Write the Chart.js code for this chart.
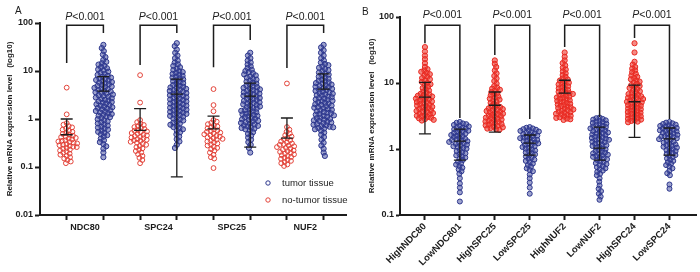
<!DOCTYPE html>
<html><head><meta charset="utf-8">
<script src="https://cdn.jsdelivr.net/npm/chart.js@4.4.1/dist/chart.umd.min.js"></script>
<style>
html,body{margin:0;padding:0;background:#fff;}
#wrap{position:relative;width:700px;height:272px;overflow:hidden;background:#fff;}
canvas{position:absolute;top:0;}
#ca{left:0}
#cb{left:350px}
</style></head><body>
<div id="wrap"><canvas id="ca" width="350" height="272"></canvas><canvas id="cb" width="350" height="272"></canvas></div>
<script>
// ---------------- DATA : panel A ----------------
const genesA = ['NDC80', 'SPC24', 'SPC25', 'NUF2'];
const seriesA = ['tumor tissue', 'no-tumor tissue'];
const yTicksA = [0.01, 0.1, 1, 10, 100];
const pLabel = 'P<0.001';

const aNDC80Normal = [4.5,1.25,0.82,0.76,0.71,0.67,0.63,0.6,0.57,0.54,0.51,0.49,0.47,0.45,0.43,0.42,0.405,0.39,0.375,0.36,0.35,0.34,0.33,0.32,0.31,0.3,0.29,0.285,0.275,0.265,0.26,0.25,0.24,0.23,0.22,0.21,0.2,0.19,0.18,0.17,0.16,0.15,0.14,0.13,0.12];
const aNDC80Tumor = [35,30,26,22,19.5,17,15.5,14.5,13.6,12.8,12,11.4,10.8,10.2,9.7,9.2,8.7,8.3,7.9,7.6,7.3,7.0,6.8,6.5,6.3,6.1,5.9,5.7,5.5,5.3,5.1,4.9,4.75,4.6,4.45,4.3,4.15,4.0,3.85,3.72,3.6,3.48,3.36,3.24,3.12,3.0,2.9,2.8,2.7,2.6,2.5,2.42,2.34,2.26,2.18,2.1,2.03,1.96,1.89,1.82,1.76,1.7,1.64,1.58,1.52,1.47,1.42,1.37,1.32,1.27,1.22,1.17,1.13,1.09,1.05,0.99,0.94,0.89,0.85,0.81,0.77,0.73,0.69,0.66,0.63,0.6,0.57,0.54,0.51,0.48,0.46,0.43,0.39,0.36,0.33,0.3,0.27,0.24,0.2,0.16];
const aSPC24Normal = [8.2,2.2,0.95,0.86,0.8,0.75,0.71,0.68,0.65,0.62,0.59,0.57,0.55,0.53,0.51,0.49,0.47,0.455,0.44,0.425,0.41,0.395,0.38,0.37,0.36,0.35,0.335,0.32,0.305,0.29,0.275,0.26,0.245,0.23,0.215,0.2,0.185,0.17,0.155,0.14,0.12];
const aSPC24Tumor = [38,33,28,24,21,18.5,16.5,15,13.8,12.8,12,11.2,10.5,9.9,9.5,9.1,8.7,8.3,7.95,7.6,7.3,7.0,6.7,6.4,6.1,5.85,5.6,5.35,5.1,4.9,4.7,4.55,4.4,4.25,4.1,3.97,3.84,3.71,3.59,3.47,3.35,3.24,3.13,3.03,2.93,2.83,2.74,2.65,2.56,2.48,2.4,2.32,2.24,2.17,2.1,2.03,1.96,1.9,1.84,1.78,1.72,1.66,1.61,1.56,1.51,1.46,1.41,1.36,1.32,1.28,1.24,1.2,1.16,1.12,1.07,1.02,0.97,0.93,0.88,0.84,0.8,0.76,0.72,0.68,0.64,0.61,0.57,0.53,0.48,0.43,0.38,0.34,0.29,0.25];
const aSPC25Normal = [4.2,1.95,1.45,0.95,0.88,0.83,0.78,0.74,0.7,0.67,0.64,0.61,0.58,0.56,0.54,0.52,0.5,0.48,0.46,0.445,0.43,0.415,0.4,0.385,0.37,0.355,0.34,0.325,0.31,0.295,0.28,0.265,0.25,0.235,0.22,0.2,0.18,0.16,0.15,0.095];
const aSPC25Tumor = [24,21,18.5,16.5,15,13.7,12.5,11.5,10.6,10,9.5,9.0,8.5,8.1,7.7,7.3,6.9,6.6,6.3,6.0,5.7,5.45,5.2,4.95,4.75,4.6,4.45,4.3,4.15,4.0,3.87,3.74,3.61,3.49,3.37,3.26,3.15,3.04,2.94,2.84,2.74,2.65,2.56,2.47,2.39,2.31,2.23,2.16,2.09,2.02,1.95,1.88,1.82,1.76,1.7,1.64,1.58,1.53,1.48,1.43,1.38,1.33,1.29,1.25,1.21,1.17,1.13,1.09,1.05,1.01,0.98,0.95,0.92,0.89,0.86,0.83,0.8,0.77,0.74,0.72,0.7,0.67,0.65,0.63,0.61,0.57,0.53,0.49,0.45,0.41,0.37,0.33,0.29,0.25,0.2];
const aNUF2Normal = [5.5,0.68,0.6,0.54,0.5,0.46,0.43,0.4,0.38,0.36,0.34,0.325,0.31,0.3,0.29,0.28,0.27,0.26,0.25,0.24,0.23,0.222,0.214,0.206,0.198,0.19,0.183,0.176,0.169,0.162,0.155,0.148,0.141,0.134,0.127,0.12,0.113,0.105];
const aNUF2Tumor = [35,31,27,24,21,18.5,16.5,15,14,13.2,12.4,11.7,11,10.4,9.8,9.3,8.8,8.4,8.0,7.6,7.25,6.9,6.6,6.3,6.05,5.8,5.6,5.4,5.22,5.05,4.88,4.72,4.56,4.41,4.26,4.12,3.98,3.85,3.72,3.6,3.48,3.36,3.25,3.14,3.04,2.94,2.84,2.74,2.65,2.56,2.48,2.4,2.32,2.24,2.17,2.1,2.03,1.96,1.9,1.84,1.78,1.72,1.66,1.6,1.55,1.5,1.45,1.4,1.35,1.31,1.27,1.23,1.19,1.15,1.11,1.07,1.04,1.0,0.97,0.94,0.91,0.88,0.85,0.82,0.79,0.76,0.74,0.71,0.69,0.67,0.65,0.63,0.61,0.57,0.52,0.47,0.42,0.37,0.32,0.28,0.24,0.2,0.17];

// mean line, upper and lower whisker (null = not visible)
const aMean  = [0.47, 3.8, 0.58, 3.3, 0.62, 3.0, 0.4, 4.2];
const aUpper = [1.0, 7.6, 1.65, 6.8, 1.15, 5.6, 1.05, 8.7];
const aLower = [null, null, null, 0.062, null, 0.26, null, null];
const aBracketTop = 90;
const aLegLeft  = [14.7, 13.3, 12, 11.5];
const aLegRight = [62, 62, 44, 62];

// ---------------- DATA : panel B ----------------
const groupsB = ['HighNDC80', 'LowNDC801', 'HighSPC25', 'LowSPC25', 'HighNUF2', 'LowNUF2', 'HighSPC24', 'LowSPC24'];
const yTicksB = [0.1, 1, 10, 100];

const bHighNDC80 = [35,30,26,23,20,17.5,16.2,15.5,14.8,14.2,13.6,13,12.4,11.9,11.4,10.9,10.4,10,9.6,9.2,8.8,8.4,8.0,7.7,7.4,7.1,6.85,6.7,6.55,6.4,6.25,6.1,5.95,5.8,5.66,5.52,5.39,5.26,5.14,5.02,4.9,4.78,4.67,4.56,4.45,4.35,4.25,4.15,4.05,3.95,3.86,3.77,3.68,3.59,3.51,3.43,3.35,3.27,3.19,3.12,3.05,2.98,2.91,2.84,2.77,2.7];
const bLowNDC80 = [2.57,2.5,2.44,2.38,2.32,2.26,2.2,2.14,2.09,2.04,1.99,1.94,1.89,1.84,1.79,1.75,1.71,1.67,1.63,1.59,1.55,1.51,1.47,1.43,1.4,1.37,1.34,1.31,1.28,1.25,1.22,1.19,1.16,1.13,1.1,1.07,1.04,1.01,0.97,0.93,0.89,0.86,0.83,0.8,0.77,0.74,0.71,0.68,0.64,0.61,0.58,0.55,0.52,0.49,0.46,0.42,0.36,0.3,0.26,0.22,0.16];
const bHighSPC25 = [22,19.5,17.5,15.5,14,12.8,11.7,10.7,9.8,9.0,8.5,8.2,7.9,7.6,7.3,7.0,6.75,6.5,6.25,6.0,5.8,5.6,5.4,5.2,5.0,4.8,4.6,4.45,4.33,4.23,4.13,4.03,3.94,3.85,3.76,3.67,3.59,3.51,3.43,3.35,3.27,3.2,3.13,3.06,2.99,2.92,2.85,2.79,2.73,2.67,2.61,2.55,2.49,2.43,2.38,2.33,2.28,2.23,2.18,2.13,2.08,2.04,2.0,1.96];
const bLowSPC25 = [2.15,2.1,2.05,2.0,1.96,1.92,1.88,1.84,1.8,1.76,1.72,1.68,1.64,1.6,1.56,1.52,1.49,1.46,1.43,1.4,1.37,1.34,1.31,1.28,1.25,1.22,1.19,1.16,1.13,1.1,1.07,1.04,1.01,0.98,0.95,0.92,0.89,0.86,0.83,0.8,0.77,0.74,0.71,0.69,0.66,0.63,0.6,0.57,0.54,0.51,0.48,0.46,0.41,0.36,0.31,0.26,0.21];
const bHighNUF2 = [29,25,22,20,18.5,17,16,15,14,13.2,12.4,11.7,11.3,10.9,10.5,10.1,9.8,9.5,9.2,8.9,8.6,8.3,8.05,7.8,7.55,7.35,7.17,7.0,6.83,6.66,6.5,6.34,6.19,6.04,5.89,5.75,5.61,5.47,5.34,5.21,5.08,4.96,4.84,4.72,4.6,4.49,4.38,4.27,4.17,4.07,3.97,3.87,3.78,3.69,3.6,3.51,3.42,3.34,3.26,3.18,3.1,3.03,2.96,2.89,2.82,2.76];
const bLowNUF2 = [3.0,2.93,2.86,2.79,2.72,2.66,2.6,2.54,2.48,2.42,2.36,2.3,2.25,2.2,2.15,2.1,2.05,2.0,1.95,1.9,1.86,1.82,1.78,1.74,1.7,1.66,1.62,1.58,1.54,1.5,1.47,1.44,1.41,1.38,1.35,1.32,1.29,1.26,1.23,1.2,1.17,1.14,1.11,1.08,1.05,1.02,0.99,0.96,0.93,0.9,0.88,0.86,0.84,0.82,0.8,0.78,0.76,0.74,0.72,0.7,0.68,0.65,0.63,0.61,0.59,0.57,0.55,0.53,0.51,0.49,0.47,0.45,0.42,0.4,0.36,0.32,0.28,0.25,0.23,0.21,0.19,0.17];
const bHighSPC24 = [40,29,21,19,17.5,16.5,15.5,14.6,13.8,13,12.4,11.9,11.4,10.9,10.5,10.1,9.7,9.3,9.0,8.7,8.4,8.1,7.8,7.5,7.25,7.0,6.8,6.6,6.45,6.3,6.15,6.0,5.86,5.72,5.58,5.45,5.32,5.2,5.08,4.96,4.84,4.72,4.61,4.5,4.39,4.29,4.19,4.09,3.99,3.9,3.81,3.72,3.63,3.54,3.46,3.38,3.3,3.22,3.14,3.07,3.0,2.93,2.86,2.79,2.72,2.66,2.6,2.54];
const bLowSPC24 = [2.57,2.51,2.45,2.39,2.34,2.29,2.24,2.19,2.14,2.09,2.04,2.0,1.96,1.92,1.88,1.84,1.8,1.76,1.72,1.68,1.64,1.6,1.57,1.54,1.51,1.48,1.45,1.41,1.37,1.33,1.29,1.25,1.21,1.17,1.14,1.11,1.08,1.05,1.02,0.99,0.96,0.93,0.9,0.87,0.84,0.81,0.78,0.75,0.72,0.69,0.66,0.63,0.6,0.57,0.54,0.51,0.47,0.43,0.4,0.29,0.25];

const bMean  = [6.1, 1.32, 4.6, 1.23, 7.0, 1.03, 5.2, 1.42];
const bUpper = [10.2, 2.0, 7.3, 1.63, 11, 2.15, 9.3, 2.08];
const bLower = [1.7, 0.68, 1.8, 0.81, null, 0.68, 1.5, 0.81];
const bBracketTop = 75;
const bLegLeft  = [40, 26.5, 35, 48];
const bLegRight = [2.95, 2.85, 3.05, 2.85];

// ---------------- STYLE ----------------
const FONT = "'Liberation Sans', Arial, Helvetica, sans-serif";
Chart.defaults.font.family = FONT;
const INK = '#1c1c1c';
const BLUE = 'rgb(44,54,140)';
const BLUE_FILL = 'rgba(62,72,158,0.5)';
const RED_A = 'rgb(226,66,56)';
const RED_B = 'rgb(232,40,32)';
const RED_B_FILL = 'rgba(236,60,50,0.6)';

function datasets(groups, styles) {
  return groups.map((vals, i) => ({
    data: vals.map(v => ({x: i, y: v})),
    borderColor: styles[i].stroke, backgroundColor: styles[i].fill,
    pointRadius: styles[i].r, pointBorderWidth: 1, pointHoverRadius: styles[i].r, showLine: false
  }));
}

function yAxis(ticksArr, width, titlePad, tickLen) {
  return {
    type: 'logarithmic', min: ticksArr[0], max: ticksArr[ticksArr.length - 1],
    afterBuildTicks: s => { s.ticks = ticksArr.map(v => ({value: v})); },
    afterFit: s => { s.width = width; },
    ticks: {callback: v => String(v), font: {size: 9, weight: 'bold'}, color: INK, padding: 2, autoSkip: false},
    grid: {display: true, drawOnChartArea: false, drawTicks: true, tickLength: tickLen, tickWidth: 2, tickColor: INK},
    border: {display: true, color: INK, width: 2},
    title: {display: true, text: 'Relative mRNA expression level   (log10)', font: {size: 8, weight: 'bold'}, color: INK, padding: {top: titlePad, bottom: 0}}
  };
}

function xAxis(min, max, n, labels, rot) {
  return {
    type: 'linear', min: min, max: max,
    afterBuildTicks: s => { s.ticks = Array.from({length: n}, (_, i) => ({value: i})); },
    afterFit: s => { s.height = 57; },
    ticks: {callback: v => labels ? labels[Math.round(v)] : '', font: {size: 9.5, weight: 'bold'}, color: INK,
            autoSkip: false, maxRotation: rot, minRotation: rot, padding: 1},
    grid: {display: true, drawOnChartArea: false, drawTicks: true, tickLength: 5, tickWidth: 2, tickColor: INK},
    border: {display: true, color: INK, width: 2}
  };
}

function overlay(cfg) {
  return {
    id: 'overlay',
    afterDatasetsDraw(chart) {
      const ctx = chart.ctx, xs = chart.scales.x, ys = chart.scales.y;
      ctx.save();
      ctx.strokeStyle = INK; ctx.lineWidth = 1.3;
      cfg.mean.forEach((m, i) => {
        const x = xs.getPixelForValue(i);
        const yu = ys.getPixelForValue(cfg.upper[i]), ym = ys.getPixelForValue(m);
        const hasL = cfg.lower[i] != null;
        const yl = hasL ? ys.getPixelForValue(cfg.lower[i]) : ym;
        ctx.beginPath();
        ctx.moveTo(x, yu); ctx.lineTo(x, yl);
        const caps = hasL ? [yu, ym, yl] : [yu, ym];
        caps.forEach(y => { ctx.moveTo(x - cfg.cap, y); ctx.lineTo(x + cfg.cap, y); });
        ctx.stroke();
      });
      ctx.lineWidth = 1.5;
      const yt = ys.getPixelForValue(cfg.top);
      const pRest = pLabel.slice(1);
      cfg.legL.forEach((vl, k) => {
        const xl = xs.getPixelForValue(2 * k), xr = xs.getPixelForValue(2 * k + 1);
        ctx.beginPath();
        ctx.moveTo(xl, ys.getPixelForValue(vl)); ctx.lineTo(xl, yt); ctx.lineTo(xr, yt);
        ctx.lineTo(xr, ys.getPixelForValue(cfg.legR[k]));
        ctx.stroke();
        const fI = 'italic 10.5px ' + FONT, fN = '10.5px ' + FONT;
        ctx.font = fI; const w1 = ctx.measureText(pLabel[0]).width;
        ctx.font = fN; const w2 = ctx.measureText(pRest).width;
        const x0 = (xl + xr) / 2 - (w1 + w2) / 2, yb = yt - cfg.pGap;
        ctx.fillStyle = INK; ctx.textAlign = 'left'; ctx.textBaseline = 'alphabetic';
        ctx.font = fI; ctx.fillText(pLabel[0], x0, yb);
        ctx.font = fN; ctx.fillText(pRest, x0 + w1, yb);
      });
      ctx.font = '10px ' + FONT; ctx.fillStyle = INK; ctx.textAlign = 'left'; ctx.textBaseline = 'alphabetic';
      ctx.fillText(cfg.letter, cfg.letterX, cfg.letterY);
      if (cfg.extra) cfg.extra(chart, ctx, xs, ys);
      ctx.restore();
    }
  };
}

function swarm(chart, groups, d) {
  const xs = chart.scales.x, ys = chart.scales.y;
  const unit = xs.getPixelForValue(1) - xs.getPixelForValue(0);
  groups.forEach((vals, i) => {
    const pts = vals.map(v => ({v: v, py: ys.getPixelForValue(v), px: 0})).sort((a, b) => a.py - b.py);
    const placed = [];
    let flip = 1;
    pts.forEach(p => {
      const blocks = [];
      placed.forEach(q => {
        const dy = q.py - p.py;
        if (Math.abs(dy) < d) { const w = Math.sqrt(d * d - dy * dy); blocks.push([q.px - w, q.px + w]); }
      });
      const cands = [0];
      blocks.forEach(b => cands.push(b[0], b[1]));
      let best = null;
      cands.forEach(c => {
        if (blocks.some(b => c > b[0] + 1e-6 && c < b[1] - 1e-6)) return;
        if (best === null || Math.abs(c) < Math.abs(best) - 1e-6 ||
            (Math.abs(Math.abs(c) - Math.abs(best)) <= 1e-6 && c * flip > best * flip)) best = c;
      });
      p.px = best; flip = -flip; placed.push(p);
    });
    chart.data.datasets[i].data = pts.map(p => ({x: i + p.px / unit, y: p.v}));
  });
  chart.update('none');
}

// ---------------- PANEL A ----------------
const groupsAData = [aNDC80Normal, aNDC80Tumor, aSPC24Normal, aSPC24Tumor, aSPC25Normal, aSPC25Tumor, aNUF2Normal, aNUF2Tumor];
const stylesA = groupsAData.map((_, i) => i % 2 === 0
  ? {stroke: RED_A, fill: 'rgba(255,255,255,0)', r: 2.4}
  : {stroke: BLUE, fill: BLUE_FILL, r: 2.6});
const chartA = new Chart(document.getElementById('ca'), {
  type: 'scatter',
  data: {datasets: datasets(groupsAData, stylesA)},
  options: {
    responsive: false, animation: false, events: [], devicePixelRatio: 1,
    layout: {padding: {top: 23, left: 0, right: 0, bottom: 0}},
    plugins: {legend: {display: false}, tooltip: {enabled: false}},
    scales: {x: xAxis(-0.727, 7.62, 8, null, 0), y: yAxis(yTicksA, 40, 5, 5)}
  },
  plugins: [overlay({
    mean: aMean, upper: aUpper, lower: aLower, cap: 6, top: aBracketTop, legL: aLegLeft, legR: aLegRight,
    pGap: 5, letter: 'A', letterX: 15, letterY: 14,
    extra: (chart, ctx, xs, ys) => {
      ctx.font = 'bold 9px ' + FONT; ctx.fillStyle = INK; ctx.textAlign = 'center'; ctx.textBaseline = 'middle';
      genesA.forEach((g, k) => ctx.fillText(g, (xs.getPixelForValue(2 * k) + xs.getPixelForValue(2 * k + 1)) / 2, 228));
      const lx = 268, ly = [183, 200], cols = [BLUE, RED_A];
      ctx.font = '9.5px ' + FONT; ctx.textAlign = 'left';
      seriesA.forEach((s, j) => {
        ctx.beginPath(); ctx.strokeStyle = cols[j]; ctx.lineWidth = 1;
        ctx.arc(lx, ly[j], 2.2, 0, Math.PI * 2); ctx.stroke();
        ctx.fillStyle = INK; ctx.fillText(s, lx + 14, ly[j]);
      });
    }
  })]
});
swarm(chartA, groupsAData, 3.6);

// ---------------- PANEL B ----------------
const groupsBData = [bHighNDC80, bLowNDC80, bHighSPC25, bLowSPC25, bHighNUF2, bLowNUF2, bHighSPC24, bLowSPC24];
const stylesB = groupsBData.map((_, i) => i % 2 === 0
  ? {stroke: RED_B, fill: RED_B_FILL, r: 2.6}
  : {stroke: BLUE, fill: BLUE_FILL, r: 2.5});
const chartB = new Chart(document.getElementById('cb'), {
  type: 'scatter',
  data: {datasets: datasets(groupsBData, stylesB)},
  options: {
    responsive: false, animation: false, events: [], devicePixelRatio: 1,
    layout: {padding: {top: 17, left: 0, right: 3, bottom: 0}},
    plugins: {legend: {display: false}, tooltip: {enabled: false}},
    scales: {x: xAxis(-0.714, 7.771, 8, groupsB, 45), y: yAxis(yTicksB, 50, 17, 4)}
  },
  plugins: [overlay({
    mean: bMean, upper: bUpper, lower: bLower, cap: 6, top: bBracketTop, legL: bLegLeft, legR: bLegRight,
    pGap: 7.5, letter: 'B', letterX: 12, letterY: 15
  })]
});
swarm(chartB, groupsBData, 3.4);
</script>
</body></html>
